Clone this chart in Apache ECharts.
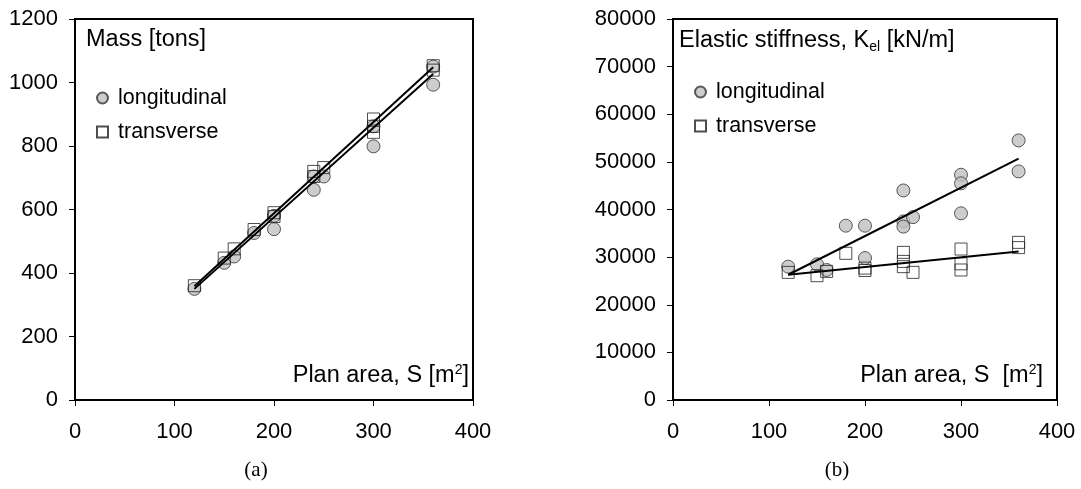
<!DOCTYPE html>
<html>
<head>
<meta charset="utf-8">
<script src="https://cdn.jsdelivr.net/npm/echarts@6/dist/echarts.min.js"></script>
<style>
    html, body { margin: 0; padding: 0; background: #fff; }
    #main { width: 1081px; height: 489px; }
</style>
</head>
<body>
<div id="main"></div>
<script>
    // plan area S [m2] on both x axes
    var areaTicks = [0, 100, 200, 300, 400];

    // (a) mass [tons]
    var massLong = [[120, 350], [150, 432], [160, 452], [180, 526], [200, 538], [200, 580],
        [240, 662], [240, 704], [250, 704], [300, 799], [300, 862], [360, 993], [360, 1050]];
    var massTrans = [[120, 360], [150, 447], [160, 476], [180, 537], [200, 578], [200, 590],
        [240, 704], [240, 720], [250, 732], [300, 843], [300, 862], [300, 885], [360, 1039], [360, 1053]];
    var massFitLong = [[120, 350], [360, 1027]];
    var massFitTrans = [[120, 358], [360, 1048]];

    // (b) elastic stiffness [kN/m]
    var stiffLong = [[120, 28000], [150, 28500], [160, 27300], [180, 36600], [200, 36600], [200, 29800],
        [240, 44000], [240, 37500], [240, 36400], [250, 38400], [300, 47300], [300, 45500], [300, 39200],
        [360, 54500], [360, 48000]];
    var stiffTrans = [[120, 26800], [150, 26100], [160, 27000], [180, 30800], [200, 27700], [200, 27200],
        [240, 31000], [240, 29100], [240, 28000], [250, 26800], [300, 31700], [300, 28600], [300, 27300],
        [360, 33100], [360, 32000]];
    var stiffFitLong = [[120, 26300], [360, 50700]];
    var stiffFitTrans = [[120, 26300], [360, 31200]];

    var FONT = 'Liberation Sans, Arial, sans-serif';
    var FS = 22;     // tick labels
    var FS_T = 23.5; // titles inside the plots
    var FS_L = 21.5; // legend

    var chart = echarts.init(document.getElementById('main'));

    function xAx(grid, inside) {
        return {
            type: 'value', gridIndex: grid, min: areaTicks[0], max: areaTicks[areaTicks.length - 1], interval: 100,
            axisLine: { show: !inside, lineStyle: { color: '#000', width: 2 } },
            axisTick: { inside: inside, length: 6, lineStyle: { color: '#000', width: 1 } },
            axisLabel: { show: !inside, color: '#000', fontSize: FS, fontFamily: FONT, margin: 21 },
            splitLine: { show: false }
        };
    }
    function yAx(grid, inside, max, step) {
        return {
            type: 'value', gridIndex: grid, min: 0, max: max, interval: step,
            axisLine: { show: !inside, lineStyle: { color: '#000', width: 2 } },
            axisTick: { inside: inside, length: 6, lineStyle: { color: '#000', width: 1 } },
            axisLabel: { show: !inside, color: '#000', fontSize: FS, fontFamily: FONT, margin: 17,
                formatter: function (v) { return String(v); } },
            splitLine: { show: false }
        };
    }

    var circle = { color: '#c0c0c0', borderColor: '#333', borderWidth: 1 };
    var square = { color: 'rgba(255,255,255,0)', borderColor: '#222', borderWidth: 1 };

    function dots(name, data, x, y, sym, style) {
        return {
            name: name, type: 'scatter', xAxisIndex: x, yAxisIndex: y, data: data,
            symbol: sym, symbolSize: sym === 'circle' ? 13 : 12, itemStyle: style, z: sym === 'circle' ? 2 : 3
        };
    }
    function fit(data, x, y) {
        return {
            type: 'line', xAxisIndex: x, yAxisIndex: y, data: data, symbol: 'none', silent: true,
            lineStyle: { color: '#000', width: 2 }, z: 5
        };
    }

    var legendText = { color: '#000', fontSize: FS_L, fontFamily: FONT, padding: [0, 0, 0, 5] };
    var supStyle = { fontSize: 14, lineHeight: 14, fontFamily: FONT, color: '#000', verticalAlign: 'top' };

    chart.setOption({
        animation: false,
        title: [
            { text: 'Mass [tons]', left: 81, top: 23, textStyle: { color: '#000', fontSize: FS_T, fontWeight: 'normal', fontFamily: FONT } },
            {
                text: 'Elastic stiffness, K{sub|el} [kN/m]', left: 674, top: 23,
                textStyle: {
                    color: '#000', fontSize: FS_T, fontWeight: 'normal', fontFamily: FONT,
                    rich: { sub: { fontSize: 14, fontFamily: FONT, color: '#000', verticalAlign: 'bottom', padding: [12, 0, 0, 0] } }
                }
            },
            {
                text: 'Plan area, S [m{sup|2}]', right: 607, top: 358,
                textStyle: { color: '#000', fontSize: FS_T, lineHeight: 26, fontWeight: 'normal', fontFamily: FONT, rich: { sup: supStyle } }
            },
            {
                text: 'Plan area, S  [m{sup|2}]', right: 33, top: 358,
                textStyle: { color: '#000', fontSize: FS_T, lineHeight: 26, fontWeight: 'normal', fontFamily: FONT, rich: { sup: supStyle } }
            },
            { text: '(a)', left: 251, top: 455, textAlign: 'center', textStyle: { color: '#000', fontSize: 21, fontWeight: 'normal', fontFamily: 'Liberation Serif, serif' } },
            { text: '(b)', left: 832, top: 455, textAlign: 'center', textStyle: { color: '#000', fontSize: 21, fontWeight: 'normal', fontFamily: 'Liberation Serif, serif' } }
        ],
        legend: [
            {
                left: 91, top: 82, orient: 'vertical', itemWidth: 11, itemHeight: 11, itemGap: 12,
                textStyle: legendText, selectedMode: false,
                data: [{ name: 'longitudinal', icon: 'circle' }, { name: 'transverse', icon: 'rect' }]
            },
            {
                left: 689, top: 76, orient: 'vertical', itemWidth: 11, itemHeight: 11, itemGap: 12,
                textStyle: legendText, selectedMode: false,
                data: [{ name: 'longitudinal', icon: 'circle' }, { name: 'transverse', icon: 'rect' }]
            }
        ],
        grid: [
            { left: 75, top: 19, right: 608, bottom: 89, show: true, borderColor: '#000', borderWidth: 2, backgroundColor: 'transparent' },
            { left: 673, top: 19, right: 24, bottom: 89, show: true, borderColor: '#000', borderWidth: 2, backgroundColor: 'transparent' }
        ],
        xAxis: [xAx(0, false), xAx(0, true), xAx(1, false), xAx(1, true)],
        yAxis: [yAx(0, false, 1200, 200), yAx(0, true, 1200, 200), yAx(1, false, 80000, 10000), yAx(1, true, 80000, 10000)],
        series: [
            dots('longitudinal', massLong, 0, 0, 'circle', circle),
            dots('transverse', massTrans, 0, 0, 'rect', square),
            fit(massFitLong, 0, 0),
            fit(massFitTrans, 0, 0),
            dots('longitudinal', stiffLong, 2, 2, 'circle', circle),
            dots('transverse', stiffTrans, 2, 2, 'rect', square),
            fit(stiffFitLong, 2, 2),
            fit(stiffFitTrans, 2, 2)
        ]
    });
</script>
</body>
</html>
